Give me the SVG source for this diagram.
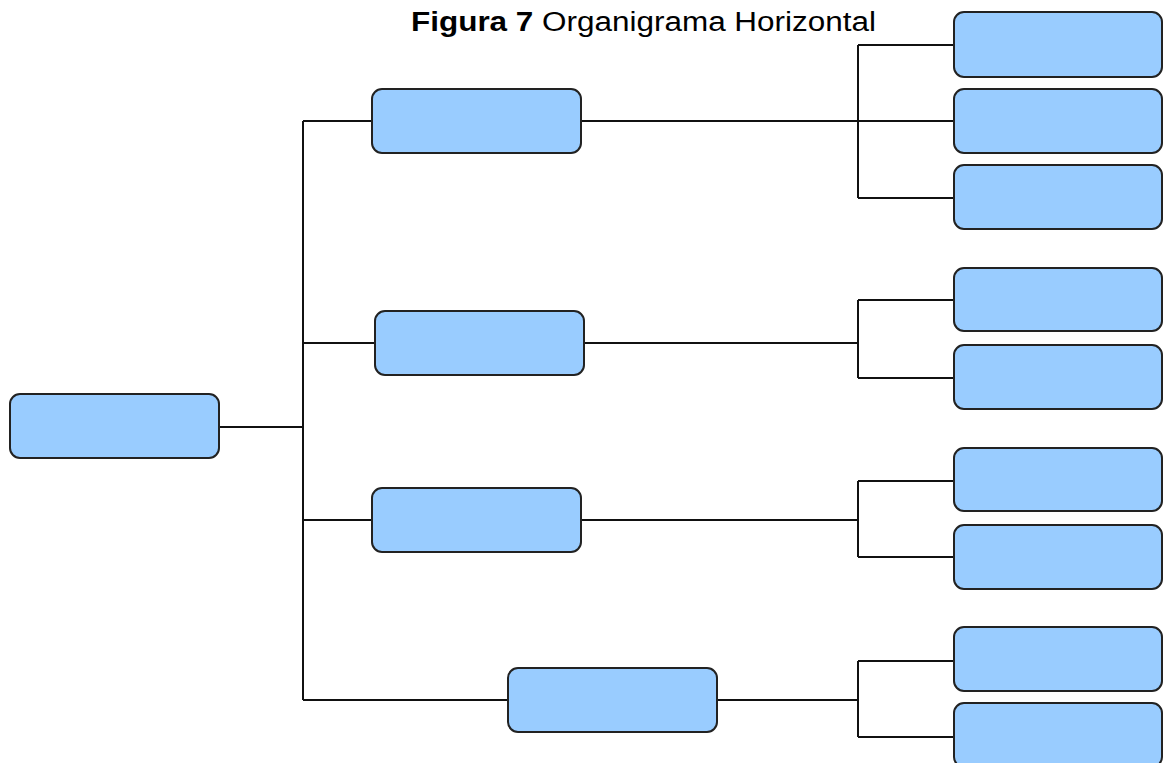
<svg xmlns="http://www.w3.org/2000/svg" width="1163" height="763" viewBox="0 0 1163 763">
<style>
.box{fill:#99ccff;stroke:#222;stroke-width:2}
.ln{fill:none;stroke:#111;stroke-width:2}
.t{font-family:"Liberation Sans",Arial,sans-serif;font-size:27px;fill:#000}
</style>
<rect width="1163" height="763" fill="#fff"/>
<text class="t" x="411" y="31" textLength="465" lengthAdjust="spacingAndGlyphs"><tspan font-weight="bold">Figura 7</tspan> Organigrama Horizontal</text>
<g id="connectors" class="ln">
<path d="M219 427H303M303 121V700M303 121H372M303 343H375M303 520H372M303 700H508"/>
<path d="M581 121H858M858 45V198M858 45H954M858 121H954M858 198H954"/>
<path d="M584 343H858M858 300V378M858 300H954M858 378H954"/>
<path d="M581 520H858M858 481V557M858 481H954M858 557H954"/>
<path d="M717 700H858M858 661V737M858 661H954M858 737H954"/>
</g>
<g id="root"><rect class="box" x="10" y="394" width="209" height="64" rx="10"/></g>
<g id="n1"><rect class="box" x="372" y="89" width="209" height="64" rx="10"/></g>
<g id="n2"><rect class="box" x="375" y="311" width="209" height="64" rx="10"/></g>
<g id="n3"><rect class="box" x="372" y="488" width="209" height="64" rx="10"/></g>
<g id="n4"><rect class="box" x="508" y="668" width="209" height="64" rx="10"/></g>
<g id="n1a"><rect class="box" x="954" y="12" width="208" height="65" rx="10"/></g>
<g id="n1b"><rect class="box" x="954" y="89" width="208" height="64" rx="10"/></g>
<g id="n1c"><rect class="box" x="954" y="165" width="208" height="64" rx="10"/></g>
<g id="n2a"><rect class="box" x="954" y="268" width="208" height="63" rx="10"/></g>
<g id="n2b"><rect class="box" x="954" y="345" width="208" height="64" rx="10"/></g>
<g id="n3a"><rect class="box" x="954" y="448" width="208" height="63" rx="10"/></g>
<g id="n3b"><rect class="box" x="954" y="525" width="208" height="64" rx="10"/></g>
<g id="n4a"><rect class="box" x="954" y="627" width="208" height="64" rx="10"/></g>
<g id="n4b"><rect class="box" x="954" y="703" width="208" height="64" rx="10"/></g>
</svg>
